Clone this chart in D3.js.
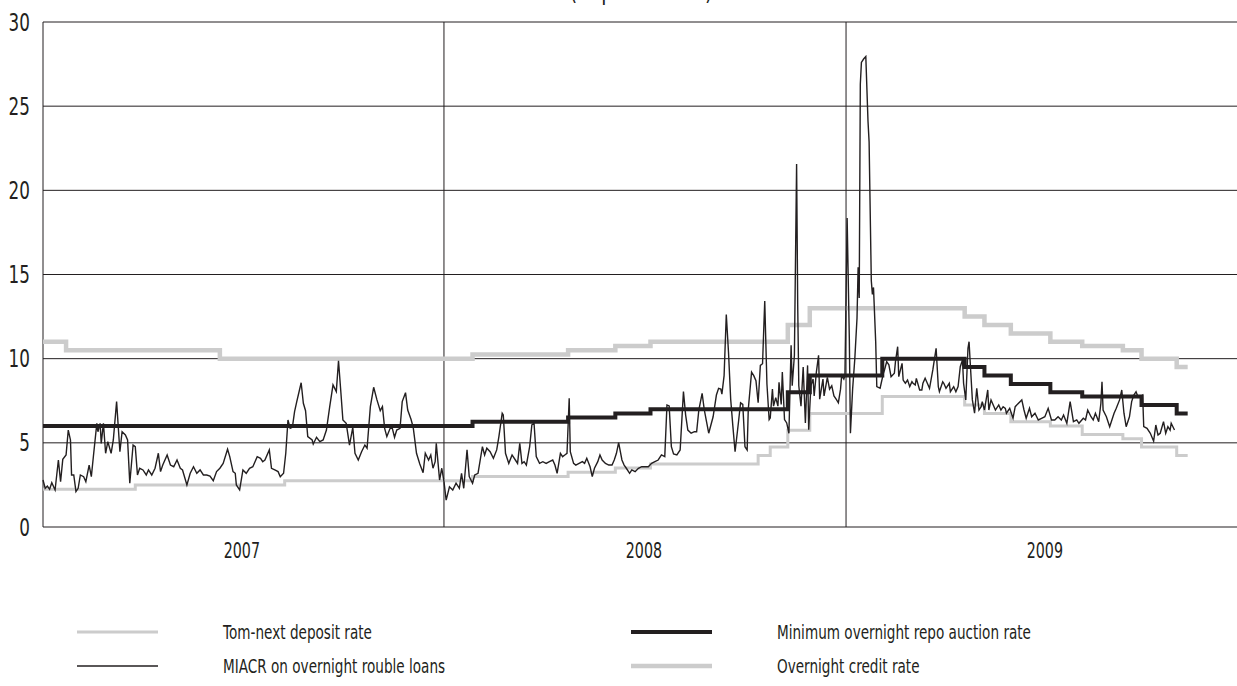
<!DOCTYPE html>
<html><head><meta charset="utf-8">
<script src="https://cdn.jsdelivr.net/npm/d3@7"></script>
<style>
html,body{margin:0;padding:0;background:#fff;}
svg{display:block;}
text{font-family:"DejaVu Sans","Liberation Sans",sans-serif;fill:#231f20;}
</style></head>
<body>
<svg id="chart" width="1237" height="686"></svg>
<script>
// ---------- data ----------
const titleText = "(% per annum)";
const yTicks = [0, 5, 10, 15, 20, 25, 30];
const yearBoundaries = ["2007-01-01", "2008-01-01", "2009-01-01"];
const yearLabels = ["2007", "2008", "2009"];
const yearLabelDates = ["2007-07-01", "2008-07-01", "2009-07-01"];
const seriesNames = ["Tom-next deposit rate", "MIACR on overnight rouble loans",
                     "Minimum overnight repo auction rate", "Overnight credit rate"];

// step series: [date from which value applies, value]; final entry marks the end
const tomNextDeposit = [
  ["2007-01-01",2.25],["2007-03-26",2.5],["2007-08-09",2.75],["2008-01-27",3.0],
  ["2008-04-23",3.25],["2008-06-05",3.5],["2008-07-07",3.75],["2008-10-13",4.25],
  ["2008-10-24",4.75],["2008-11-09",5.75],["2008-11-29",6.75],["2009-02-03",7.75],
  ["2009-04-19",7.25],["2009-05-07",6.75],["2009-05-31",6.25],["2009-07-06",6.0],
  ["2009-08-04",5.5],["2009-09-10",5.25],["2009-09-27",4.75],["2009-10-29",4.25],
  ["2009-11-08",4.25]
];
const minRepoAuction = [
  ["2007-01-01",6.0],["2008-01-27",6.25],["2008-04-23",6.5],["2008-06-05",6.75],
  ["2008-07-07",7.0],["2008-11-09",8.0],["2008-11-29",9.0],["2009-02-03",10.0],
  ["2009-04-19",9.5],["2009-05-07",9.0],["2009-05-31",8.5],["2009-07-06",8.0],
  ["2009-08-04",7.75],["2009-09-27",7.25],["2009-10-29",6.75],["2009-11-08",6.75]
];
const overnightCredit = [
  ["2007-01-01",11.0],["2007-01-22",10.5],["2007-06-11",10.0],["2008-01-27",10.25],
  ["2008-04-23",10.5],["2008-06-05",10.75],["2008-07-07",11.0],["2008-11-09",12.0],
  ["2008-11-29",13.0],["2009-04-19",12.5],["2009-05-07",12.0],["2009-05-31",11.5],
  ["2009-07-06",11.0],["2009-08-04",10.75],["2009-09-10",10.5],["2009-09-27",10.0],
  ["2009-10-29",9.5],["2009-11-08",9.5]
];
const miacr = [
["2007-01-01",2.79],["2007-01-03",2.3],["2007-01-05",2.43],["2007-01-07",2.24],["2007-01-09",2.63],["2007-01-12",2.2],["2007-01-15",3.98],["2007-01-17",2.69],["2007-01-19",4.02],["2007-01-22",4.28],["2007-01-24",5.76],["2007-01-26",5.17],["2007-01-27",3.09],["2007-01-29",3.09],["2007-01-31",2.1],["2007-02-02",2.3],["2007-02-04",3.09],["2007-02-07",2.99],["2007-02-09",2.69],["2007-02-12",3.68],["2007-02-14",2.99],["2007-02-16",4.28],["2007-02-19",6.16],["2007-02-20",5.66],["2007-02-22",6.16],["2007-02-23",4.97],["2007-02-25",6.16],["2007-02-27",4.38],["2007-03-01",5.07],["2007-03-04",4.38],["2007-03-06",5.17],["2007-03-09",7.45],["2007-03-12",4.47],["2007-03-14",5.66],["2007-03-17",5.47],["2007-03-19",5.17],["2007-03-21",2.6],["2007-03-24",4.87],["2007-03-26",4.77],["2007-03-28",3.09],["2007-03-30",3.49],["2007-04-02",3.39],["2007-04-05",3.09],["2007-04-07",3.39],["2007-04-10",3.09],["2007-04-13",3.49],["2007-04-16",4.38],["2007-04-18",3.29],["2007-04-20",3.68],["2007-04-24",4.28],["2007-04-27",3.68],["2007-04-30",3.58],["2007-05-03",3.98],["2007-05-06",3.49],["2007-05-08",3.39],["2007-05-12",2.5],["2007-05-15",3.19],["2007-05-18",3.58],["2007-05-21",3.19],["2007-05-24",3.39],["2007-05-27",3.09],["2007-05-30",3.09],["2007-06-02",3.03],["2007-06-05",2.75],["2007-06-08",3.29],["2007-06-11",3.49],["2007-06-14",3.78],["2007-06-18",4.62],["2007-06-20",4.18],["2007-06-23",3.29],["2007-06-25",3.19],["2007-06-26",2.5],["2007-06-29",2.2],["2007-07-02",3.39],["2007-07-05",3.19],["2007-07-08",3.49],["2007-07-11",3.58],["2007-07-15",4.18],["2007-07-18",4.08],["2007-07-20",3.88],["2007-07-22",3.98],["2007-07-26",4.58],["2007-07-28",3.49],["2007-07-31",3.39],["2007-08-03",3.29],["2007-08-05",2.99],["2007-08-08",3.19],["2007-08-10",4.38],["2007-08-12",6.36],["2007-08-14",5.86],["2007-08-16",5.92],["2007-08-18",6.85],["2007-08-20",7.45],["2007-08-24",8.57],["2007-08-26",7.35],["2007-08-28",6.91],["2007-08-30",5.37],["2007-09-03",5.17],["2007-09-04",4.93],["2007-09-07",5.33],["2007-09-10",5.07],["2007-09-13",5.17],["2007-09-16",5.76],["2007-09-19",7.15],["2007-09-22",8.44],["2007-09-25",8.04],["2007-09-27",9.88],["2007-09-29",8.14],["2007-10-01",6.36],["2007-10-04",6.16],["2007-10-07",4.87],["2007-10-10",5.92],["2007-10-12",4.38],["2007-10-15",3.98],["2007-10-18",4.47],["2007-10-21",4.87],["2007-10-23",4.68],["2007-10-26",7.15],["2007-10-29",8.3],["2007-11-01",7.55],["2007-11-04",6.91],["2007-11-06",7.15],["2007-11-08",5.86],["2007-11-10",5.37],["2007-11-13",5.86],["2007-11-15",5.86],["2007-11-17",5.33],["2007-11-19",5.76],["2007-11-22",5.86],["2007-11-24",7.45],["2007-11-27",7.98],["2007-11-29",6.95],["2007-12-02",6.4],["2007-12-04",5.92],["2007-12-07",4.38],["2007-12-10",3.74],["2007-12-13",3.23],["2007-12-15",4.38],["2007-12-18",3.98],["2007-12-20",4.28],["2007-12-22",3.49],["2007-12-24",3.88],["2007-12-25",4.97],["2007-12-28",2.79],["2007-12-30",3.49],
["2008-01-01",2.69],["2008-01-03",1.6],["2008-01-06",2.39],["2008-01-09",2.2],["2008-01-12",2.6],["2008-01-15",2.3],["2008-01-17",3.19],["2008-01-19",2.3],["2008-01-22",4.58],["2008-01-24",2.99],["2008-01-27",2.6],["2008-01-29",3.09],["2008-02-01",3.19],["2008-02-05",4.77],["2008-02-07",4.28],["2008-02-09",4.68],["2008-02-12",4.47],["2008-02-15",4.08],["2008-02-18",4.58],["2008-02-20",5.37],["2008-02-23",6.76],["2008-02-24",6.65],["2008-02-26",4.38],["2008-02-29",3.78],["2008-03-03",4.28],["2008-03-06",3.98],["2008-03-08",3.78],["2008-03-10",4.97],["2008-03-12",3.78],["2008-03-14",3.88],["2008-03-16",3.68],["2008-03-19",4.77],["2008-03-21",6.06],["2008-03-23",6.16],["2008-03-25",4.18],["2008-03-28",3.78],["2008-03-31",3.88],["2008-04-03",3.78],["2008-04-06",3.88],["2008-04-09",3.98],["2008-04-11",3.68],["2008-04-13",3.19],["2008-04-16",4.38],["2008-04-18",4.18],["2008-04-20",4.28],["2008-04-22",4.38],["2008-04-24",7.65],["2008-04-25",4.47],["2008-04-28",3.78],["2008-04-30",3.68],["2008-05-03",3.78],["2008-05-06",3.88],["2008-05-08",3.78],["2008-05-10",4.08],["2008-05-13",3.58],["2008-05-15",2.99],["2008-05-17",3.49],["2008-05-20",3.88],["2008-05-22",4.28],["2008-05-24",3.98],["2008-05-27",3.78],["2008-05-30",3.68],["2008-06-02",3.68],["2008-06-04",3.98],["2008-06-06",4.38],["2008-06-08",5.01],["2008-06-11",3.98],["2008-06-13",3.68],["2008-06-15",3.49],["2008-06-18",3.19],["2008-06-20",3.39],["2008-06-23",3.29],["2008-06-26",3.49],["2008-06-29",3.58],["2008-07-02",3.58],["2008-07-05",3.58],["2008-07-08",3.78],["2008-07-11",3.88],["2008-07-14",3.98],["2008-07-17",4.28],["2008-07-20",4.18],["2008-07-22",7.25],["2008-07-24",7.19],["2008-07-26",4.77],["2008-07-28",4.34],["2008-07-31",4.28],["2008-08-03",4.58],["2008-08-06",8.04],["2008-08-08",6.65],["2008-08-10",5.76],["2008-08-13",5.57],["2008-08-16",5.66],["2008-08-18",5.66],["2008-08-20",6.95],["2008-08-23",7.94],["2008-08-25",6.95],["2008-08-27",6.26],["2008-08-29",5.57],["2008-09-02",6.55],["2008-09-05",7.84],["2008-09-07",8.24],["2008-09-09",8.19],["2008-09-10",7.89],["2008-09-12",8.99],["2008-09-14",12.62],["2008-09-16",10.4],["2008-09-18",7.59],["2008-09-20",5.98],["2008-09-22",4.47],["2008-09-25",6.18],["2008-09-27",7.38],["2008-09-29",7.28],["2008-10-01",4.77],["2008-10-03",4.57],["2008-10-04",6.98],["2008-10-07",9.2],["2008-10-09",8.99],["2008-10-11",8.69],["2008-10-13",7.38],["2008-10-15",9.6],["2008-10-17",9.7],["2008-10-19",13.42],["2008-10-21",8.49],["2008-10-23",6.38],["2008-10-24",6.48],["2008-10-26",8.19],["2008-10-27",7.18],["2008-10-29",7.69],["2008-10-31",7.18],["2008-11-01",8.59],["2008-11-03",7.28],["2008-11-04",9.2],["2008-11-06",6.38],["2008-11-08",6.18],["2008-11-10",5.57],["2008-11-12",10.8],["2008-11-13",8.39],["2008-11-15",10.2],["2008-11-17",21.57],["2008-11-18",13.2],["2008-11-19",8.39],["2008-11-21",7.18],["2008-11-23",9.5],["2008-11-25",6.18],["2008-11-27",9.6],["2008-11-28",5.78],["2008-11-30",8.39],["2008-12-02",8.79],["2008-12-03",7.79],["2008-12-05",9.2],["2008-12-07",10.2],["2008-12-08",7.59],["2008-12-11",8.79],["2008-12-12",7.79],["2008-12-15",8.89],["2008-12-17",8.19],["2008-12-19",8.39],["2008-12-21",7.79],["2008-12-23",7.59],["2008-12-25",7.38],["2008-12-27",8.19],["2008-12-28",8.99],["2008-12-30",8.79],["2008-12-31",8.99],
["2009-01-01",13.6],["2009-01-02",18.35],["2009-01-04",11.2],["2009-01-05",5.57],["2009-01-07",8.19],["2009-01-09",10.0],["2009-01-11",12.41],["2009-01-12",15.43],["2009-01-13",13.6],["2009-01-14",26.3],["2009-01-15",27.6],["2009-01-17",27.8],["2009-01-19",27.95],["2009-01-21",24.1],["2009-01-22",22.88],["2009-01-24",14.63],["2009-01-25",13.82],["2009-01-26",14.23],["2009-01-28",11.0],["2009-01-29",8.34],["2009-02-01",8.24],["2009-02-02",8.54],["2009-02-04",9.13],["2009-02-05",9.33],["2009-02-07",9.82],["2009-02-09",9.63],["2009-02-11",8.93],["2009-02-14",9.13],["2009-02-15",9.82],["2009-02-17",10.71],["2009-02-18",8.93],["2009-02-21",9.72],["2009-02-22",8.73],["2009-02-24",8.54],["2009-02-26",8.73],["2009-02-28",8.34],["2009-03-02",8.63],["2009-03-03",8.54],["2009-03-05",8.44],["2009-03-06",8.83],["2009-03-09",8.14],["2009-03-11",8.14],["2009-03-12",8.54],["2009-03-14",8.84],["2009-03-16",8.54],["2009-03-18",8.24],["2009-03-21",9.33],["2009-03-24",10.62],["2009-03-26",8.34],["2009-03-27",8.04],["2009-03-30",8.63],["2009-03-31",8.54],["2009-04-02",8.24],["2009-04-03",8.34],["2009-04-05",8.54],["2009-04-06",8.04],["2009-04-09",8.34],["2009-04-11",8.04],["2009-04-13",8.34],["2009-04-15",9.52],["2009-04-17",9.92],["2009-04-18",8.54],["2009-04-20",7.55],["2009-04-22",10.62],["2009-04-23",11.01],["2009-04-24",9.82],["2009-04-26",7.55],["2009-04-28",6.76],["2009-04-30",8.24],["2009-05-02",6.95],["2009-05-04",7.15],["2009-05-05",7.45],["2009-05-07",6.95],["2009-05-10",8.14],["2009-05-11",6.95],["2009-05-13",7.55],["2009-05-15",7.25],["2009-05-17",6.95],["2009-05-20",7.25],["2009-05-22",6.95],["2009-05-24",7.15],["2009-05-26",7.05],["2009-05-27",6.76],["2009-05-30",7.05],["2009-06-02",6.46],["2009-06-04",7.15],["2009-06-07",7.35],["2009-06-10",7.55],["2009-06-12",6.95],["2009-06-14",6.46],["2009-06-17",7.05],["2009-06-19",6.55],["2009-06-22",6.76],["2009-06-25",6.36],["2009-06-28",6.46],["2009-07-01",6.55],["2009-07-04",7.05],["2009-07-07",6.36],["2009-07-10",6.36],["2009-07-13",6.55],["2009-07-16",6.36],["2009-07-18",6.65],["2009-07-21",6.16],["2009-07-24",7.45],["2009-07-27",6.26],["2009-07-30",6.36],["2009-08-01",6.16],["2009-08-05",6.46],["2009-08-07",6.36],["2009-08-09",6.95],["2009-08-12",6.55],["2009-08-14",6.36],["2009-08-16",6.76],["2009-08-19",6.26],["2009-08-21",7.35],["2009-08-22",8.63],["2009-08-23",6.95],["2009-08-26",6.55],["2009-08-29",5.96],["2009-08-31",6.36],["2009-09-02",6.76],["2009-09-04",7.05],["2009-09-07",7.55],["2009-09-09",8.14],["2009-09-11",6.76],["2009-09-13",5.96],["2009-09-16",6.55],["2009-09-18",7.45],["2009-09-20",7.84],["2009-09-22",8.04],["2009-09-24",7.7],["2009-09-26",7.74],["2009-09-28",7.84],["2009-09-29",5.96],["2009-10-02",5.86],["2009-10-05",5.57],["2009-10-08",5.1],["2009-10-10",6.06],["2009-10-12",5.47],["2009-10-14",5.57],["2009-10-17",6.26],["2009-10-19",5.57],["2009-10-21",5.96],["2009-10-23",5.76],["2009-10-24",6.16],["2009-10-27",5.76]
];

// ---------- layout / styles ----------
const W = 1237, H = 686;
const plot = {left: 43, top: 22, bottom: 527, right: 1247};
const ink = "#231f20", lightGrey = "#cccccc";
const styles = {
  "Tom-next deposit rate": {stroke: lightGrey, width: 3},
  "MIACR on overnight rouble loans": {stroke: ink, width: 1.4},
  "Minimum overnight repo auction rate": {stroke: ink, width: 4},
  "Overnight credit rate": {stroke: lightGrey, width: 4.5}
};

const parse = d3.utcParse("%Y-%m-%d");
const x = d3.scaleUtc().domain([parse("2007-01-01"), parse("2010-01-01")]).range([plot.left, plot.right]);
const y = d3.scaleLinear().domain([0, 30]).range([plot.bottom, plot.top]);

const svg = d3.select("#chart");
// the original typeface is strongly condensed: squeeze text horizontally
const place = (px, py, sx) => `translate(${px},${py}) scale(${sx},1)`;

// title (only its lower part falls inside the picture, as in the original)
svg.append("text").attr("transform", place(641, 0, 0.76)).attr("text-anchor", "middle")
  .style("font-size", "25px").text(titleText);

// horizontal grid lines
svg.append("g").selectAll("line").data(yTicks).join("line")
  .attr("x1", plot.left).attr("x2", W).attr("y1", d => y(d)).attr("y2", d => y(d))
  .attr("stroke", ink).attr("stroke-width", 1);
// vertical year boundaries
svg.append("g").selectAll("line").data(yearBoundaries).join("line")
  .attr("x1", d => x(parse(d))).attr("x2", d => x(parse(d)))
  .attr("y1", plot.top).attr("y2", plot.bottom)
  .attr("stroke", ink).attr("stroke-width", 1);

// y tick labels
svg.append("g").selectAll("text").data(yTicks).join("text")
  .attr("transform", d => place(30, y(d), 0.7)).attr("dy", "0.36em").attr("text-anchor", "end")
  .style("font-size", "24px").text(d => d);

// year labels
svg.append("g").selectAll("text").data(yearLabels).join("text")
  .attr("transform", (d, i) => place(x(parse(yearLabelDates[i])), 558, 0.68)).attr("text-anchor", "middle")
  .style("font-size", "21px").text(d => d);

const stepLine = d3.line().x(d => x(parse(d[0]))).y(d => y(d[1])).curve(d3.curveStepAfter);
const plainLine = d3.line().x(d => x(parse(d[0]))).y(d => y(d[1])).curve(d3.curveLinear);

function draw(data, name, gen) {
  const s = styles[name];
  svg.append("path").datum(data).attr("d", gen).attr("fill", "none")
    .attr("stroke", s.stroke).attr("stroke-width", s.width).attr("stroke-linejoin", "miter");
}
draw(tomNextDeposit, seriesNames[0], stepLine);
draw(overnightCredit, seriesNames[3], stepLine);
draw(minRepoAuction, seriesNames[2], stepLine);
draw(miacr, seriesNames[1], plainLine);

// legend
const legendPos = [
  {lx: 77, tx: 223, ly: 632}, {lx: 77, tx: 223, ly: 666},
  {lx: 631, tx: 777, ly: 632}, {lx: 631, tx: 777, ly: 666}
];
const lg = svg.append("g");
seriesNames.forEach((name, i) => {
  const p = legendPos[i], s = styles[name];
  lg.append("line").attr("x1", p.lx).attr("x2", p.lx + 81).attr("y1", p.ly).attr("y2", p.ly)
    .attr("stroke", s.stroke).attr("stroke-width", s.width);
  lg.append("text").attr("transform", place(p.tx, p.ly, 0.68)).attr("dy", "0.35em")
    .style("font-size", "20px").text(name);
});
</script>
</body></html>
